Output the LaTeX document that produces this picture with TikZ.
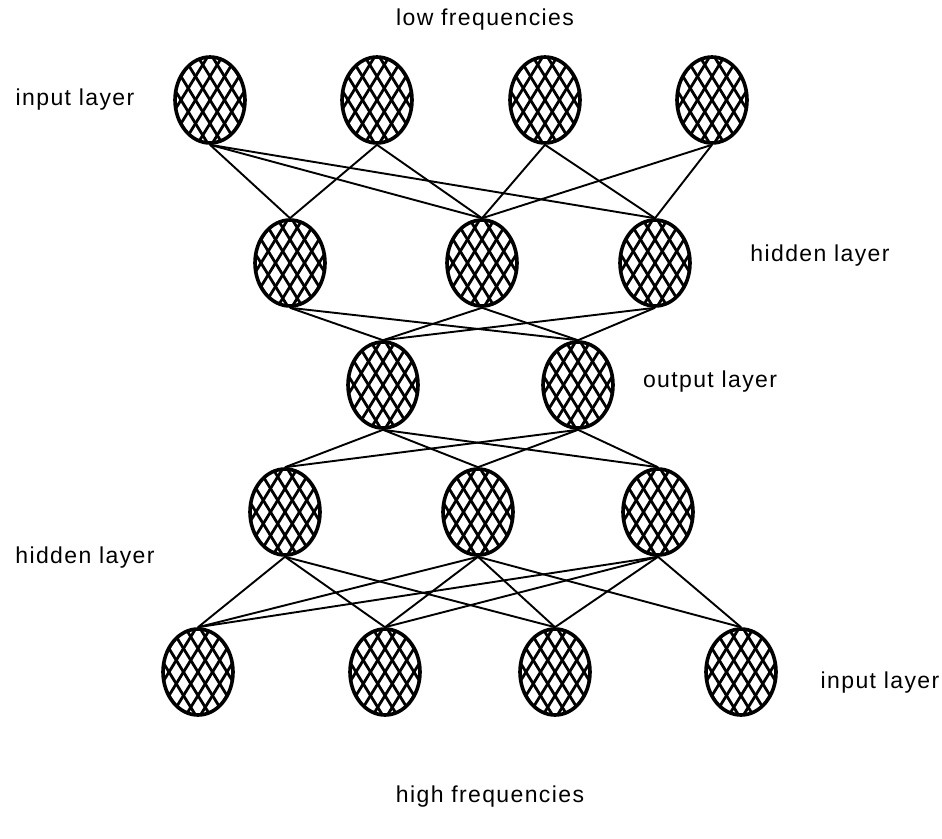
\documentclass[tikz,border=0pt]{standalone}
\usepackage{fontspec}
\setmainfont{Liberation Sans}
\usetikzlibrary{shapes.geometric}
\begin{document}
\begin{tikzpicture}[x=1pt,y=-1pt,
  neuron/.style={draw, line width=3.6pt, ellipse, minimum width=70pt, minimum height=86pt, inner sep=0pt, fill=white,
    path picture={
      \begin{scope}[shift={(path picture bounding box.center)}]
        \foreach \k in {-8,...,8}{
          \draw[line width=2.8pt] (\k*14.5-37,-60) -- (\k*14.5+37,60);
          \draw[line width=2.8pt] (\k*14.5+37,-60) -- (\k*14.5-37,60);
        }
      \end{scope}}},
  link/.style={line width=1.9pt},
  lbl/.style={font=\fontsize{23}{27}\selectfont\addfontfeature{LetterSpace=6}}]
\useasboundingbox[fill=white] (0,0) rectangle (942,838);

\node[neuron] (I1) at (210,100) {};
\node[neuron] (I2) at (377,100) {};
\node[neuron] (I3) at (545,100) {};
\node[neuron] (I4) at (712,100) {};

\node[neuron] (H1) at (290,263) {};
\node[neuron] (H2) at (482,263) {};
\node[neuron] (H3) at (655,263) {};

\node[neuron] (O1) at (383,385) {};
\node[neuron] (O2) at (578,385) {};

\node[neuron] (G1) at (285,512) {};
\node[neuron] (G2) at (478,512) {};
\node[neuron] (G3) at (658,512) {};

\node[neuron] (B1) at (198,672) {};
\node[neuron] (B2) at (385,672) {};
\node[neuron] (B3) at (555,672) {};
\node[neuron] (B4) at (741,672) {};

\foreach \a/\b in {I1/H1,I1/H2,I1/H3,I2/H1,I2/H2,I3/H2,I3/H3,I4/H2,I4/H3}
  \draw[link] (\a.south) -- (\b.north);
\foreach \a in {H1,H2,H3}
  \foreach \b in {O1,O2}
    \draw[link] (\a.south) -- (\b.north);
\foreach \a in {O1,O2}
  \foreach \b in {G1,G2,G3}
    \draw[link] (\a.south) -- (\b.north);
\foreach \a/\b in {G1/B1,G1/B2,G1/B3,G2/B1,G2/B2,G2/B3,G2/B4,G3/B1,G3/B2,G3/B3,G3/B4}
  \draw[link] (\a.south) -- (\b.north);

\node[lbl] (tlow) at (485,20) {low frequencies};
\node[lbl] (tin1) at (75,100) {input layer};
\node[lbl] (thid1) at (820,256) {hidden layer};
\node[lbl] (tout) at (710,382) {output layer};
\node[lbl] (thid2) at (85,558) {hidden layer};
\node[lbl] (tin2) at (880,683) {input layer};
\node[lbl] (thigh) at (490,797) {high frequencies};
\end{tikzpicture}
\end{document}
